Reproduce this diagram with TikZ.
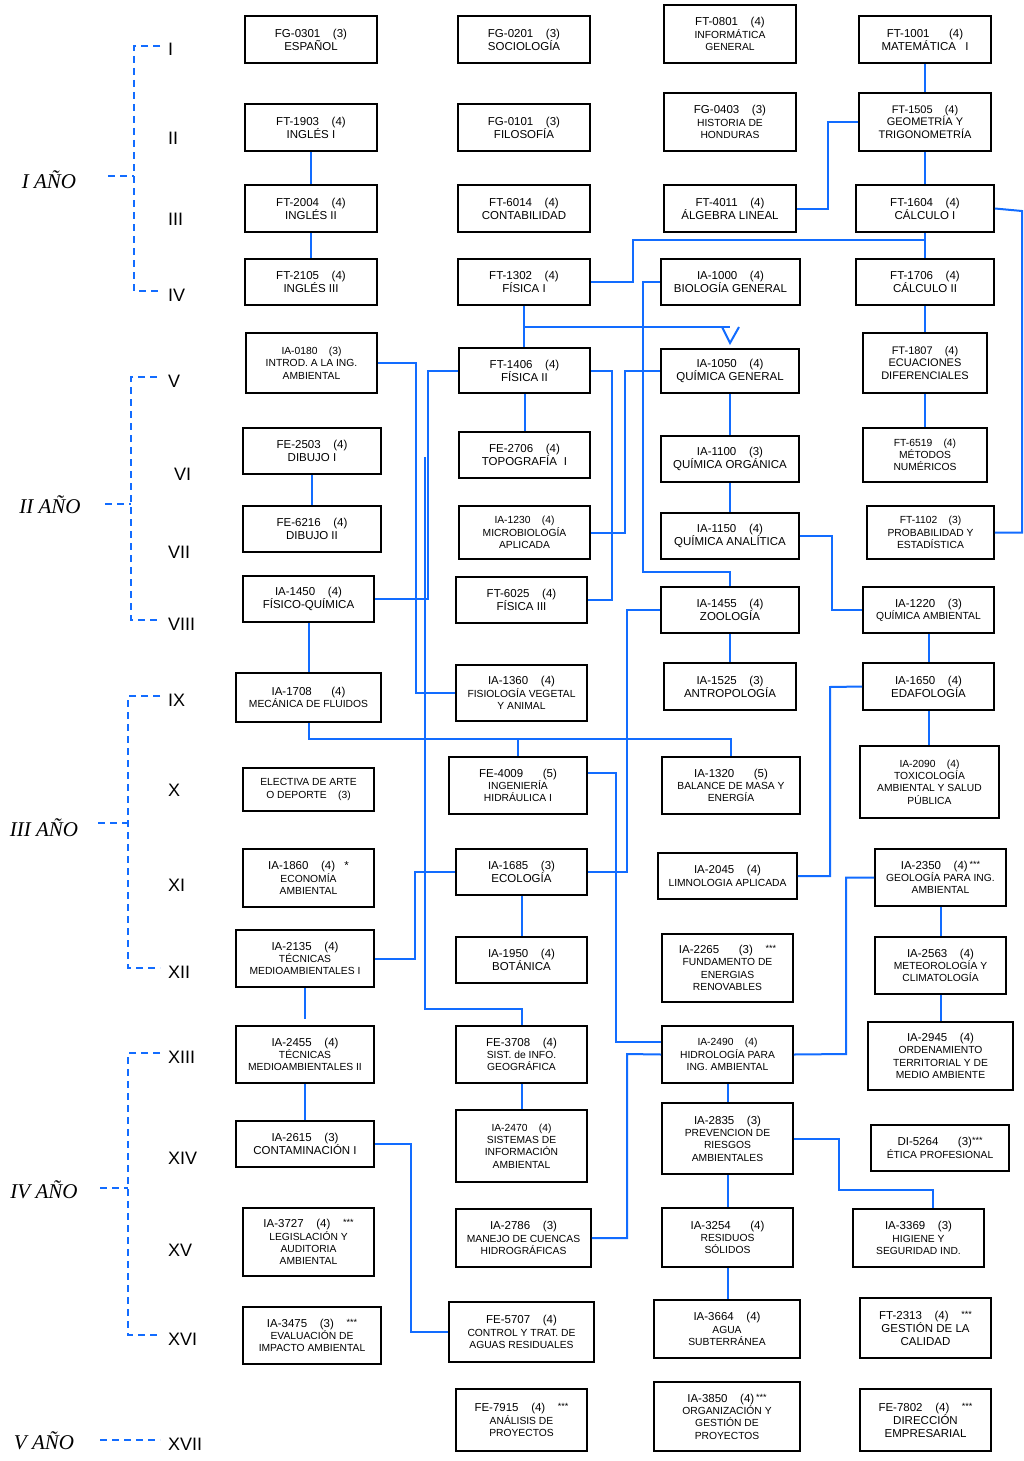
\documentclass[tikz,border=0pt]{standalone}
\usepackage{fontspec}
\setmainfont{Liberation Sans}
\newfontfamily\yearfont{Liberation Serif}
\definecolor{lblue}{RGB}{18,108,255}
\newcommand\cl[1]{{\fontsize{11.5}{13}\selectfont #1}}
\newcommand\gp{\hspace{1.1em}}
\newcommand\gw{\hspace{1.7em}}
\newcommand\stars{\raisebox{.35ex}{\fontsize{9}{9}\selectfont ***}}
\newcommand\course[7]{\node[#1, minimum width={(#5-#3)*1pt}, minimum height={(#6-#4)*1pt}] (#2) at ({(#3+#5)/2},{(#4+#6)/2}) {#7};}
\begin{document}
\begin{tikzpicture}[x=1pt,y=-1pt,
  box/.style={draw=black, line width=1.8pt, inner sep=1pt, align=center, font=\fontsize{11.5}{13}\selectfont},
  boxs/.style={box, font=\fontsize{10.3}{12.3}\selectfont},
  boxm/.style={boxs},
  conn/.style={draw=lblue, line width=2pt},
  yd/.style={draw=lblue, line width=1.8pt, dash pattern=on 7pt off 5pt},
  num/.style={font=\fontsize{18}{18}\selectfont, inner sep=0pt, anchor=west},
  yr/.style={font=\yearfont\itshape\fontsize{21}{21}\selectfont, inner sep=0pt}]
\useasboundingbox (0,0) rectangle (1024,1461);
\fill[white] (0,0) rectangle (1024,1461);

% ---------- courses ----------
\course{box}{esp}{245}{16}{377}{63}{FG-0301\gp(3)\\ESPAÑOL}
\course{box}{soc}{458}{16}{590}{63}{FG-0201\gp(3)\\SOCIOLOGÍA}
\course{boxm}{inf}{664}{5}{796}{63}{\cl{FT-0801\gp(4)}\\INFORMÁTICA\\GENERAL}
\course{box}{mat1}{859}{16}{991}{63}{FT-1001\gw(4)\\MATEMÁTICA\hspace{0.8em}I}
\course{box}{ing1}{245}{104}{377}{151}{FT-1903\gp(4)\\INGLÉS I}
\course{box}{fil}{458}{104}{590}{151}{FG-0101\gp(3)\\FILOSOFÍA}
\course{boxm}{his}{664}{93}{796}{151}{\cl{FG-0403\gp(3)}\\HISTORIA DE\\HONDURAS}
\course{box,font=\fontsize{11}{12.5}\selectfont}{geo}{859}{93}{991}{151}{FT-1505\gp(4)\\GEOMETRÍA Y\\TRIGONOMETRÍA}
\course{box}{ing2}{245}{185}{377}{232}{FT-2004\gp(4)\\INGLÉS II}
\course{box}{con}{458}{185}{590}{232}{FT-6014\gp(4)\\CONTABILIDAD}
\course{box}{alg}{664}{185}{796}{232}{FT-4011\gp(4)\\ÁLGEBRA LINEAL}
\course{box}{cal1}{856}{185}{994}{232}{FT-1604\gp(4)\\CÁLCULO I}
\course{box}{ing3}{245}{259}{377}{305}{FT-2105\gp(4)\\INGLÉS III}
\course{box}{fis1}{458}{259}{590}{305}{FT-1302\gp(4)\\FÍSICA I}
\course{box}{bio}{661}{259}{800}{305}{IA-1000\gp(4)\\BIOLOGÍA GENERAL}
\course{box}{cal2}{856}{259}{994}{305}{FT-1706\gp(4)\\CÁLCULO II}

\course{boxs}{intro}{246}{333}{377}{393}{IA-0180\gp(3)\\INTROD. A LA ING.\\AMBIENTAL}
\course{box}{fis2}{459}{348}{590}{393}{FT-1406\gp(4)\\FÍSICA II}
\course{box}{qgen}{661}{349}{799}{393}{IA-1050\gp(4)\\QUÍMICA GENERAL}
\course{box,font=\fontsize{11}{12.3}\selectfont}{ecu}{863}{333}{987}{393}{FT-1807\gp(4)\\ECUACIONES\\DIFERENCIALES}
\course{box}{dib1}{243}{428}{381}{474}{FE-2503\gp(4)\\DIBUJO I}
\course{box}{topo}{459}{432}{590}{478}{FE-2706\gp(4)\\TOPOGRAFÍA\hspace{0.6em}I}
\course{box}{qorg}{661}{436}{799}{482}{IA-1100\gp(3)\\QUÍMICA ORGÁNICA}
\course{boxs}{met}{863}{428}{987}{482}{FT-6519\gp(4)\\MÉTODOS\\NUMÉRICOS}
\course{box}{dib2}{243}{506}{381}{552}{FE-6216\gp(4)\\DIBUJO II}
\course{boxs}{micro}{459}{506}{590}{559}{IA-1230\gp(4)\\MICROBIOLOGÍA\\APLICADA}
\course{box}{qana}{661}{513}{799}{559}{IA-1150\gp(4)\\QUÍMICA ANALÍTICA}
\course{boxs}{prob}{867}{506}{994}{559}{FT-1102\gp(3)\\PROBABILIDAD Y\\ESTADÍSTICA}
\course{box}{fq}{243}{576}{374}{622}{IA-1450\gp(4)\\FÍSICO-QUÍMICA}
\course{box}{fis3}{456}{577}{587}{623}{FT-6025\gp(4)\\FÍSICA III}
\course{box}{zoo}{661}{587}{799}{633}{IA-1455\gp(4)\\ZOOLOGÍA}
\course{boxm}{qamb}{863}{587}{994}{633}{\cl{IA-1220\gp(3)}\\QUÍMICA AMBIENTAL}

\course{boxm}{mec}{236}{673}{381}{722}{\cl{IA-1708\gw(4)}\\MECÁNICA DE FLUIDOS}
\course{boxm}{fisio}{456}{665}{587}{721}{\cl{IA-1360\gp(4)}\\FISIOLOGÍA VEGETAL\\Y ANIMAL}
\course{box}{antro}{664}{663}{796}{710}{IA-1525\gp(3)\\ANTROPOLOGÍA}
\course{box}{edaf}{863}{663}{994}{710}{IA-1650\gp(4)\\EDAFOLOGÍA}
\course{boxs}{elec}{243}{768}{374}{811}{ELECTIVA DE ARTE\\O DEPORTE\gp(3)}
\course{boxm}{hidra}{449}{757}{587}{814}{\cl{FE-4009\gw(5)}\\INGENIERÍA\\HIDRÁULICA I}
\course{boxm}{bal}{662}{757}{800}{814}{\cl{IA-1320\gw(5)}\\BALANCE DE MASA Y\\ENERGÍA}
\course{boxs}{toxi}{860}{746}{999}{818}{IA-2090\gp(4)\\TOXICOLOGÍA\\AMBIENTAL Y SALUD\\PÚBLICA}
\course{boxm}{econ}{243}{849}{374}{907}{\cl{IA-1860\gp(4)\hspace{0.8em}*}\\ECONOMÍA\\AMBIENTAL}
\course{box}{ecol}{456}{849}{587}{895}{IA-1685\gp(3)\\ECOLOGÍA}
\course{boxm}{limno}{658}{853}{797}{899}{\cl{IA-2045\gp(4)}\\LIMNOLOGIA APLICADA}
\course{boxm}{geol}{875}{849}{1006}{906}{\cl{IA-2350\gp(4)\,\stars}\\GEOLOGÍA PARA ING.\\AMBIENTAL}
\course{boxm}{tec1}{236}{930}{374}{987}{\cl{IA-2135\gp(4)}\\TÉCNICAS\\MEDIOAMBIENTALES I}
\course{box}{bot}{456}{937}{587}{983}{IA-1950\gp(4)\\BOTÁNICA}
\course{boxm}{fund}{662}{934}{793}{1002}{\cl{IA-2265\gw(3)\gp\stars}\\FUNDAMENTO DE\\ENERGIAS\\RENOVABLES}
\course{boxm}{meteo}{875}{937}{1006}{994}{\cl{IA-2563\gp(4)}\\METEOROLOGÍA Y\\CLIMATOLOGÍA}

\course{boxm}{tec2}{236}{1026}{374}{1083}{\cl{IA-2455\gp(4)}\\TÉCNICAS\\MEDIOAMBIENTALES II}
\course{boxm}{sig}{456}{1026}{587}{1083}{\cl{FE-3708\gp(4)}\\SIST. de INFO.\\GEOGRÁFICA}
\course{boxs}{hidro}{662}{1026}{793}{1083}{IA-2490\gp(4)\\HIDROLOGÍA PARA\\ING. AMBIENTAL}
\course{boxm}{orden}{868}{1022}{1013}{1090}{\cl{IA-2945\gp(4)}\\ORDENAMIENTO\\TERRITORIAL Y DE\\MEDIO AMBIENTE}
\course{box}{cont}{236}{1121}{374}{1167}{IA-2615\gp(3)\\CONTAMINACIÓN I}
\course{boxs}{sia}{456}{1110}{587}{1182}{IA-2470\gp(4)\\SISTEMAS DE\\INFORMACIÓN\\AMBIENTAL}
\course{boxm}{prev}{662}{1103}{793}{1174}{\cl{IA-2835\gp(3)}\\PREVENCION DE\\RIESGOS\\AMBIENTALES}
\course{boxm}{etica}{871}{1125}{1009}{1171}{\cl{DI-5264\gw(3)\stars}\\ÉTICA PROFESIONAL}
\course{boxm}{legis}{243}{1208}{374}{1276}{\cl{IA-3727\gp(4)\gp\stars}\\LEGISLACIÓN Y\\AUDITORIA\\AMBIENTAL}
\course{boxm}{cuen}{456}{1209}{591}{1267}{\cl{IA-2786\gp(3)}\\MANEJO DE CUENCAS\\HIDROGRÁFICAS}
\course{boxm}{resid}{662}{1208}{793}{1267}{\cl{IA-3254\gw(4)}\\RESIDUOS\\SÓLIDOS}
\course{boxm}{hig}{853}{1209}{984}{1267}{\cl{IA-3369\gp(3)}\\HIGIENE Y\\SEGURIDAD IND.}
\course{boxm}{eval}{243}{1307}{381}{1364}{\cl{IA-3475\gp(3)\gp\stars}\\EVALUACIÓN DE\\IMPACTO AMBIENTAL}
\course{boxm}{ctrl}{449}{1302}{594}{1362}{\cl{FE-5707\gp(4)}\\CONTROL Y TRAT. DE\\AGUAS RESIDUALES}
\course{boxm}{agua}{654}{1300}{800}{1358}{\cl{IA-3664\gp(4)}\\AGUA\\SUBTERRÁNEA}
\course{box}{gcal}{860}{1298}{991}{1358}{FT-2313\gp(4)\gp\stars\\GESTIÓN DE LA\\CALIDAD}
\course{boxm}{anal}{456}{1389}{587}{1451}{\cl{FE-7915\gp(4)\gp\stars}\\ANÁLISIS DE\\PROYECTOS}
\course{boxm}{org}{654}{1382}{800}{1451}{\cl{IA-3850\gp(4)\,\stars}\\ORGANIZACIÓN Y\\GESTIÓN DE\\PROYECTOS}
\course{box}{dir}{860}{1389}{991}{1451}{FE-7802\gp(4)\gp\stars\\DIRECCIÓN\\EMPRESARIAL}

% ---------- vertical connectors ----------
\foreach \a/\b in {ing1/ing2,ing2/ing3,mat1/geo,geo/cal1,cal1/cal2,fis1/fis2,cal2/ecu,ecu/met,
  dib1/dib2,fis2/topo,qgen/qorg,qorg/qana,fq/mec,zoo/antro,qamb/edaf,edaf/toxi,ecol/bot,
  geol/meteo,meteo/orden,tec2/cont,sig/sia,hidro/prev,prev/resid,resid/agua}
  \draw[conn] (\a.south) -- (\a.south |- \b.north);

% ---------- routed connectors ----------
\draw[conn] (alg.east) -- ++(31,0) |- (geo.west);
\draw[conn] (cal1.east) -- (1022,211) |- (prob.east);
\coordinate (j1) at (925,240);
\draw[conn] (fis1.east) -- (633,282) |- (j1);
\draw[conn] (bio.west) -- (643,282) |- (730,572) -- (zoo.north);
\coordinate (j2) at (524,327);
\coordinate (vtip) at (730,343);
\draw[conn] (j2) -- (730,327);
\draw[conn] (722,327) -- (vtip) -- (739,327);
\draw[conn] (intro.east) -| (416,693) -- (fisio.west);
\draw[conn] (fis2.west) -| (428,599) -- (fq.east);
\draw[conn] (425,457) |- (sig.north |- 0,1009) -- (sig.north);
\draw[conn] (fis2.east) -| (612,600) -- (fis3.east);
\draw[conn] (micro.east) -| (625,371) -- (qgen.west);
\draw[conn] (qana.east) -| (832,610) -- (qamb.west);
\draw[conn] (zoo.west) -| (627,872) -- (ecol.east);
\draw[conn] (mec.south) |- (bal.north |- 0,739) -- (bal.north);
\draw[conn] (hidra.north |- 0,739) -- (hidra.north);
\draw[conn] (tec1.east) -| (415,872) -- (ecol.west);
\draw[conn] (tec1.south) -- ++(0,31);
\draw[conn] (hidra.east |- 0,773) -| (616,1042) -- (hidro.west |- 0,1042);
\draw[conn] (limno.east) -| (830,687) -- (edaf.west);
\draw[conn] (geol.west) -| (846,1054) -- (hidro.east);
\draw[conn] (cuen.east) -| (627,1054) -- (hidro.west);
\draw[conn] (cont.east) -| (411,1332) -- (ctrl.west);
\draw[conn] (prev.east) -| (839,1190) -- (933,1190) -- (hig.north -| 933,0);

% ---------- years and periods ----------
\node[yr] (y1) at (49,180) {I AÑO};
\node[yr] (y2) at (50,505) {II AÑO};
\node[yr] (y3) at (44,828) {III AÑO};
\node[yr] (y4) at (44,1190) {IV AÑO};
\node[yr] (y5) at (44,1441) {V AÑO};

\node[num] (r1) at (168,49) {I};
\node[num] (r2) at (168,138) {II};
\node[num] (r3) at (168,219) {III};
\node[num] (r4) at (168,295) {IV};
\node[num] (r5) at (168,381) {V};
\node[num] (r6) at (174,474) {VI};
\node[num] (r7) at (168,552) {VII};
\node[num] (r8) at (168,624) {VIII};
\node[num] (r9) at (168,700) {IX};
\node[num] (r10) at (168,790) {X};
\node[num] (r11) at (168,885) {XI};
\node[num] (r12) at (168,972) {XII};
\node[num] (r13) at (168,1057) {XIII};
\node[num] (r14) at (168,1158) {XIV};
\node[num] (r15) at (168,1250) {XV};
\node[num] (r16) at (168,1339) {XVI};
\node[num] (r17) at (168,1444) {XVII};

\draw[yd] (108,176) -- (134,176);
\draw[yd] (160,46) -- (134,46) -- (134,291) -- (160,291);
\draw[yd] (105,504) -- (131,504);
\draw[yd] (157,377) -- (131,377) -- (131,620) -- (157,620);
\draw[yd] (98,823) -- (128,823);
\draw[yd] (160,696) -- (128,696) -- (128,968) -- (160,968);
\draw[yd] (100,1188) -- (128,1188);
\draw[yd] (160,1053) -- (128,1053) -- (128,1335) -- (160,1335);
\draw[yd] (100,1440) -- (160,1440);
\end{tikzpicture}
\end{document}
